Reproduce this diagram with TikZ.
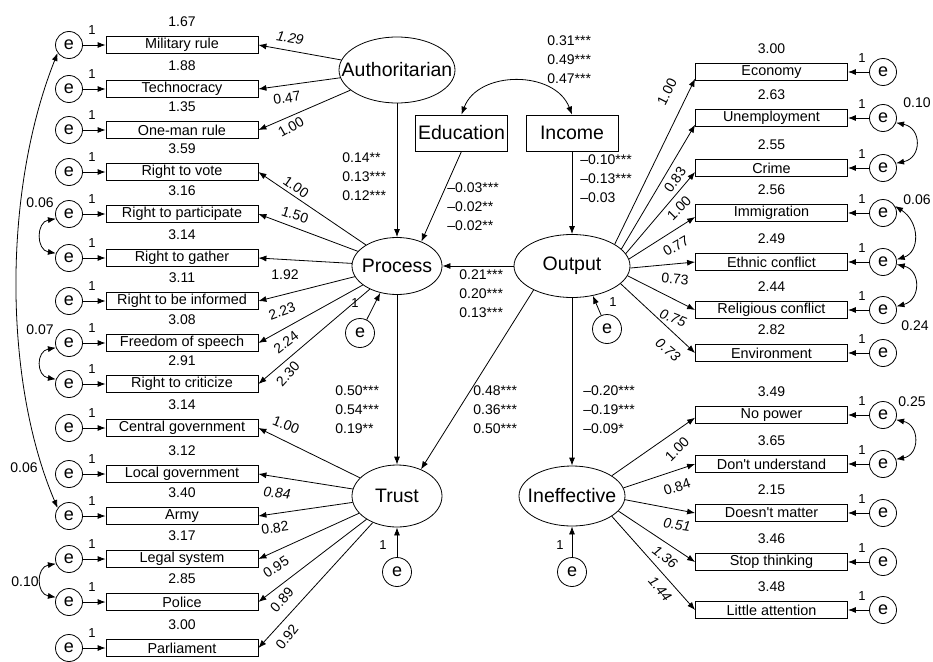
\documentclass[tikz,border=0pt]{standalone}
\usepackage{fontspec}
\setmainfont{Liberation Sans}
\usetikzlibrary{arrows.meta,shapes.geometric}
\newcommand\zw[1]{\makebox[0pt]{#1}}
\begin{document}
\begin{tikzpicture}[x=1pt,y=-1pt,line width=0.8pt,
 >={Latex[length=8pt,width=6pt]},
 ind/.style={draw,rectangle,minimum width=152pt,minimum height=17.5pt,inner sep=0pt,font=\fontsize{14.4}{15}\selectfont},
 err/.style={draw,circle,minimum size=27pt,inner sep=0pt,font=\fontsize{18}{18}\selectfont},
 lat/.style={draw,ellipse,inner sep=0pt,font=\fontsize{19.5}{20}\selectfont},
 obs/.style={draw,rectangle,minimum width=92pt,minimum height=36pt,inner sep=0pt,font=\fontsize{19.5}{20}\selectfont},
 num/.style={inner sep=0pt,font=\fontsize{14}{14}\selectfont},
 lab/.style={inner sep=0pt,font=\fontsize{14}{14}\selectfont},
 labi/.style={inner sep=0pt,font=\fontsize{14}{14}\selectfont\itshape},
 onel/.style={inner sep=0pt,font=\fontsize{13}{13}\selectfont},
 coef/.style={inner sep=0pt,anchor=west,align=left,font=\fontsize{14}{19}\selectfont},
]
\useasboundingbox (0,0) rectangle (933,661);

% latent variables
\node[lat,minimum width=116pt,minimum height=66pt] (auth) at (397,70) {\zw{Authoritarian}};
\node[lat,minimum width=90pt,minimum height=57pt] (proc) at (397,266) {\zw{Process}};
\node[lat,minimum width=116pt,minimum height=63pt] (out) at (572,266) {\zw{Output}};
\node[lat,minimum width=90pt,minimum height=62pt] (trust) at (397,496) {\zw{Trust}};
\node[lat,minimum width=106pt,minimum height=60pt] (ineff) at (572,496) {\zw{Ineffective}};

% observed exogenous
\node[obs] (edu) at (461.5,133) {Education};
\node[obs] (inc) at (572,133) {Income};

% latent errors
\node[err,minimum size=29pt] (eproc) at (360,333) {e};
\node[err,minimum size=29pt] (eout) at (607,329) {e};
\node[err,minimum size=29pt] (etrust) at (397,572) {e};
\node[err,minimum size=29pt] (eineff) at (572,572) {e};
\draw[->] (eproc) -- (proc.238);
\draw[->] (eout) -- (out.305);
\draw[->] (etrust) -- (trust);
\draw[->] (eineff) -- (ineff);
\node[onel] at (355,303) {1};
\node[onel] at (613,302) {1};
\node[onel] at (383,545) {1};
\node[onel] at (560,545) {1};

% structural paths
\draw[->] (auth) -- (proc);
\draw[->] (edu.south) -- (proc.45);
\draw[->] (inc) -- (out);
\draw[->] (out) -- (proc);
\draw[->] (proc) -- (trust);
\draw[->] (out.212) -- (trust.48);
\draw[->] (out) -- (ineff);
\draw[<->] (edu.north) .. controls (478,70) and (555,70) .. (inc.north);

\node[coef] at (547,60) {0.31***\\0.49***\\0.47***};
\node[coef] at (342,177) {0.14**\\0.13***\\0.12***};
\node[coef] at (447,207) {\textendash0.03***\\\textendash0.02**\\\textendash0.02**};
\node[coef] at (580,179) {\textendash0.10***\\\textendash0.13***\\\textendash0.03};
\node[coef] at (459,294) {0.21***\\0.20***\\0.13***};
\node[coef] at (335,410) {0.50***\\0.54***\\0.19**};
\node[coef] at (473,410) {0.48***\\0.36***\\0.50***};
\node[coef] at (583,410) {\textendash0.20***\\\textendash0.19***\\\textendash0.09*};

% left indicators
\foreach \n/\y/\t/\m in {mil/45/Military rule/1.67, tech/89/Technocracy/1.88, oneman/130/One-man rule/1.35, vote/172/Right to vote/3.59, part/214/Right to participate/3.16, gath/258/Right to gather/3.14, info/301/Right to be informed/3.11, free/343/Freedom of speech/3.08, crit/384/Right to criticize/2.91, cent/428/Central government/3.14, loc/474/Local government/3.12, army/516/Army/3.40, legal/559/Legal system/3.17, pol/602/Police/2.85, parl/648/Parliament/3.00}
{
 \node[ind] (\n) at (182,\y) {\t};
 \node[err] (e\n) at (69,\y) {e};
 \draw[->] (e\n) -- (\n);
 \node[onel] at (92,{\y-15}) {1};
 \node[num] at (182,{\y-23}) {\m};
}

% right indicators
\foreach \n/\y/\t/\m in {econ/72/Economy/3.00, unemp/118/Unemployment/2.63, crime/168/Crime/2.55, immig/213/Immigration/2.56, ethn/262/Ethnic conflict/2.49, relig/310/Religious conflict/2.44, env/353/Environment/2.82, nopow/415/No power/3.49, dont/464/Don\textquotesingle t understand/3.65, doesnt/513/Doesn\textquotesingle t matter/2.15, stop/562/Stop thinking/3.46, little/610/Little attention/3.48}
{
 \node[ind] (\n) at (771.5,\y) {\t};
 \node[err] (e\n) at (883,\y) {e};
 \draw[->] (e\n) -- (\n);
 \node[onel] at (862,{\y-14}) {1};
 \node[num] at (771.5,{\y-23}) {\m};
}

% loadings
\draw[->] (auth) -- (mil.east);
\draw[->] (auth) -- (tech.east);
\draw[->] (auth) -- (oneman.east);
\foreach \n in {vote,part,gath,info,free,crit} \draw[->] (proc) -- (\n.east);
\foreach \n in {cent,loc,army,legal,pol,parl} \draw[->] (trust) -- (\n.east);
\draw[->] (out.27) -- (econ.185);
\draw[->] (out.19) -- (unemp.185);
\draw[->] (out.13) -- (crime.183);
\draw[->] (out.7) -- (immig.183);
\draw[->] (out.358) -- (ethn.west);
\draw[->] (out.350) -- (relig.west);
\draw[->] (out.340) -- (env.west);
\draw[->] (ineff.27) -- (nopow.182);
\draw[->] (ineff.9) -- (dont.west);
\draw[->] (ineff.356) -- (doesnt.west);
\draw[->] (ineff.342) -- (stop.west);
\draw[->] (ineff.333) -- (little.west);

% loading labels
\node[labi,rotate=-10] at (290,38) {1.29};
\node[lab,rotate=8] at (287,98) {0.47};
\node[lab,rotate=30] at (291,127) {1.00};
\node[lab,rotate=-35] at (296,187) {1.00};
\node[lab,rotate=-18] at (295,215) {1.50};
\node[lab] at (285,275) {1.92};
\node[lab,rotate=20] at (282,311) {2.23};
\node[lab,rotate=38] at (286,342) {2.24};
\node[lab,rotate=48] at (288,374) {2.30};
\node[lab,rotate=-22] at (286,425) {1.00};
\node[labi,rotate=-5] at (277,493) {0.84};
\node[lab,rotate=8] at (275,528) {0.82};
\node[lab,rotate=33] at (276,567) {0.95};
\node[lab,rotate=48] at (282,600) {0.89};
\node[lab,rotate=52] at (287,637) {0.92};
\node[lab,rotate=63] at (667,92) {1.00};
\node[lab,rotate=55] at (675,180) {0.83};
\node[lab,rotate=45] at (679,208) {1.00};
\node[lab,rotate=30] at (676,246) {0.77};
\node[lab,rotate=-5] at (675,279) {0.73};
\node[labi,rotate=-22] at (673,318) {0.75};
\node[labi,rotate=-40] at (668,350) {0.73};
\node[lab,rotate=45] at (677,449) {1.00};
\node[lab,rotate=18] at (677,487) {0.84};
\node[labi,rotate=-8] at (677,525) {0.51};
\node[labi,rotate=-38] at (665,557) {1.36};
\node[labi,rotate=-50] at (660,589) {1.44};

% covariances left
\draw[<->] (emil.215) .. controls (3,190) and (3,380) .. (earmy.145);
\draw[<->] (epart.200) .. controls (36,222) and (36,250) .. (egath.160);
\draw[<->] (efree.200) .. controls (36,351) and (36,376) .. (ecrit.160);
\draw[<->] (elegal.200) .. controls (36,567) and (36,594) .. (epol.160);
\node[num] at (24,468) {0.06};
\node[num] at (40,203) {0.06};
\node[num] at (40,330) {0.07};
\node[num] at (25,582) {0.10};

% covariances right
\draw[<->] (eunemp.340) .. controls (922,128) and (922,158) .. (ecrime.20);
\draw[<->] (eimmig.30) .. controls (920,222) and (920,252) .. (eethn.10);
\draw[<->] (eethn.350) .. controls (921,270) and (921,300) .. (erelig.15);
\draw[<->] (enopow.340) .. controls (920,425) and (920,455) .. (edont.20);
\node[num] at (917,103) {0.10};
\node[num] at (917,200) {0.06};
\node[num] at (915,326) {0.24};
\node[num] at (912,402) {0.25};
\end{tikzpicture}
\end{document}
